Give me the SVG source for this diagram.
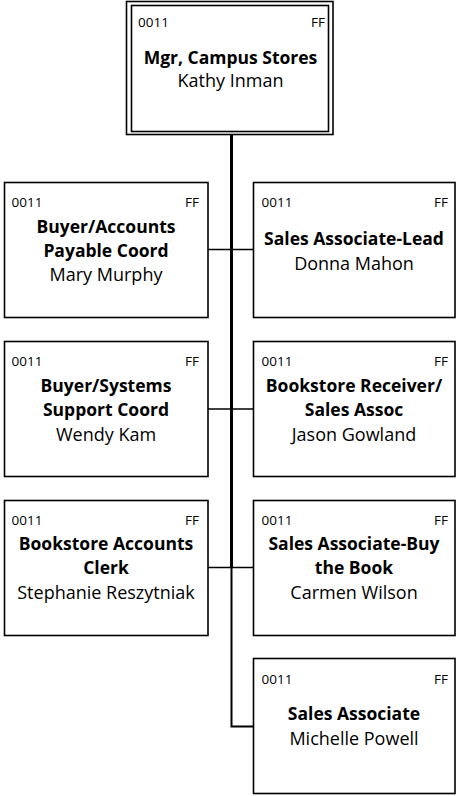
<svg xmlns="http://www.w3.org/2000/svg" width="457" height="796" viewBox="0 0 457 796">
<style>
.box{fill:#fff;stroke:#000;stroke-width:1.6}
.code{font-family:"Open Sans","Liberation Sans",sans-serif;font-size:13.5px;fill:#000}
.ff{font-family:"Open Sans","Liberation Sans",sans-serif;font-size:13.5px;fill:#000;text-anchor:end}
.title{font-family:"Open Sans","Liberation Sans",sans-serif;font-size:17.5px;font-weight:bold;fill:#000;text-anchor:middle}
.name{font-family:"Open Sans","Liberation Sans",sans-serif;font-size:18px;fill:#000;text-anchor:middle}
.conn{fill:none;stroke:#000;stroke-width:1.6}
</style>
<rect width="457" height="796" fill="#fff"/>
<g id="connectors">
<line class="conn" x1="231.5" y1="134" x2="231.5" y2="567" style="stroke-width:3"/>
<path class="conn" d="M231.5 567 V726.5 H253" style="stroke-width:2"/>
<line class="conn" x1="208" y1="249.5" x2="253" y2="249.5"/>
<line class="conn" x1="208" y1="409" x2="253" y2="409"/>
<line class="conn" x1="208" y1="567.5" x2="253" y2="567.5"/>
</g>
<g id="node-mgr">
<rect class="box" x="126.5" y="1.5" width="206.5" height="133"/>
<rect class="box" x="131.5" y="5.5" width="197" height="126"/>
<text class="code" x="138" y="26.5">0011</text>
<text class="ff" x="325" y="26.5">FF</text>
<text class="title" x="230.5" y="63.5">Mgr, Campus Stores</text>
<text class="name" x="230.5" y="87">Kathy Inman</text>
</g>
<g id="node-buyer-ap">
<rect class="box" x="4.5" y="182.5" width="203.5" height="135"/>
<text class="code" x="11.5" y="207">0011</text>
<text class="ff" x="199" y="207">FF</text>
<text class="title" x="106" y="232.5">Buyer/Accounts</text>
<text class="title" x="106" y="256.5">Payable Coord</text>
<text class="name" x="106" y="281">Mary Murphy</text>
</g>
<g id="node-sales-lead">
<rect class="box" x="253.5" y="182.5" width="201.5" height="135"/>
<text class="code" x="261.5" y="207">0011</text>
<text class="ff" x="448" y="207">FF</text>
<text class="title" x="354" y="244.5">Sales Associate-Lead</text>
<text class="name" x="354" y="269.5">Donna Mahon</text>
</g>
<g id="node-buyer-sys">
<rect class="box" x="4.5" y="341.5" width="203.5" height="135"/>
<text class="code" x="11.5" y="366">0011</text>
<text class="ff" x="199" y="366">FF</text>
<text class="title" x="106" y="391.5">Buyer/Systems</text>
<text class="title" x="106" y="415.5">Support Coord</text>
<text class="name" x="106" y="440.5">Wendy Kam</text>
</g>
<g id="node-receiver">
<rect class="box" x="253.5" y="341.5" width="201.5" height="135"/>
<text class="code" x="261.5" y="366">0011</text>
<text class="ff" x="448" y="366">FF</text>
<text class="title" x="354" y="391.5">Bookstore Receiver/</text>
<text class="title" x="354" y="415.5">Sales Assoc</text>
<text class="name" x="354" y="440.5">Jason Gowland</text>
</g>
<g id="node-accounts-clerk">
<rect class="box" x="4.5" y="500.5" width="203.5" height="135"/>
<text class="code" x="11.5" y="524.5">0011</text>
<text class="ff" x="199" y="524.5">FF</text>
<text class="title" x="106" y="550">Bookstore Accounts</text>
<text class="title" x="106" y="574">Clerk</text>
<text class="name" x="106" y="598.5">Stephanie Reszytniak</text>
</g>
<g id="node-buy-book">
<rect class="box" x="253.5" y="500.5" width="201.5" height="135"/>
<text class="code" x="261.5" y="524.5">0011</text>
<text class="ff" x="448" y="524.5">FF</text>
<text class="title" x="354" y="550">Sales Associate-Buy</text>
<text class="title" x="354" y="574">the Book</text>
<text class="name" x="354" y="598.5">Carmen Wilson</text>
</g>
<g id="node-sales-assoc">
<rect class="box" x="253.5" y="658.5" width="201.5" height="135"/>
<text class="code" x="261.5" y="683.5">0011</text>
<text class="ff" x="448" y="683.5">FF</text>
<text class="title" x="354" y="720">Sales Associate</text>
<text class="name" x="354" y="745">Michelle Powell</text>
</g>
</svg>
